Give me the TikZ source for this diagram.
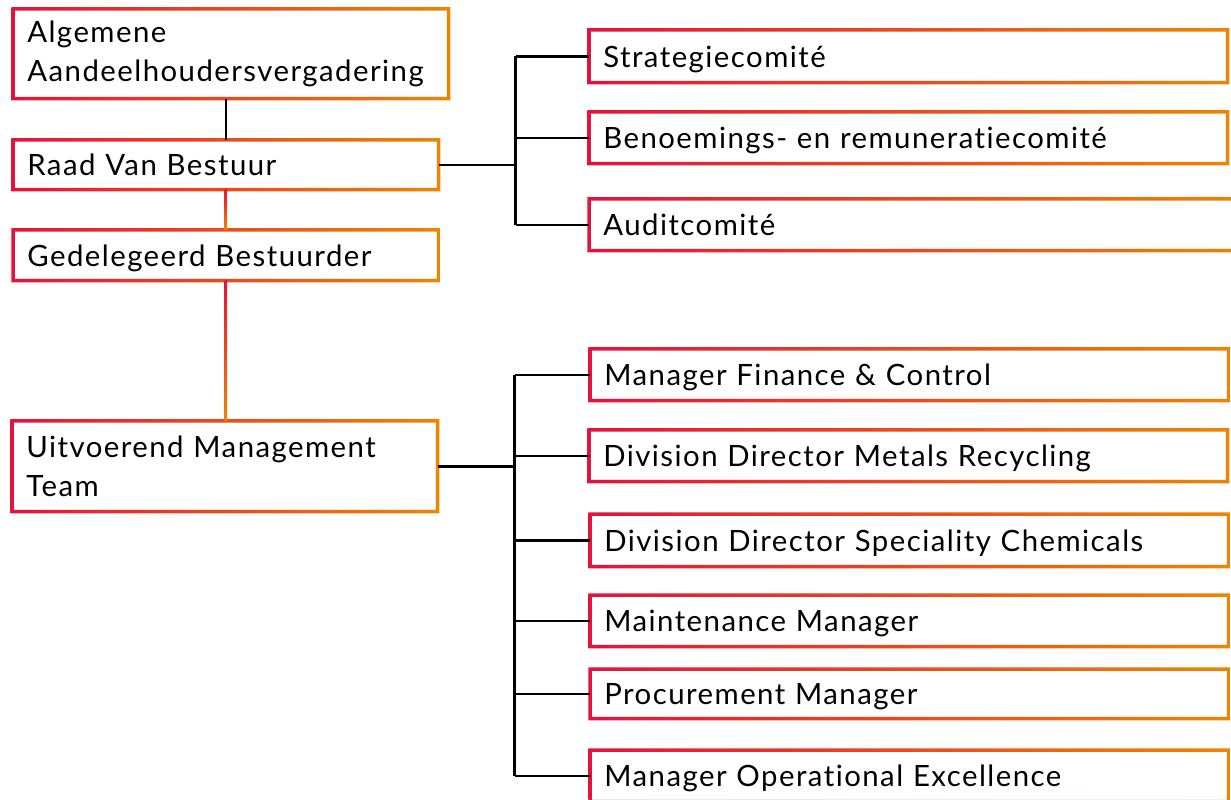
\documentclass[tikz,border=0pt]{standalone}
\usepackage{fontspec}
\setmainfont{Lato}[LetterSpace=5,Ligatures={NoCommon}]
\usepackage{tikz}
\usetikzlibrary{calc}
\definecolor{umred}{RGB}{228,18,60}
\definecolor{umorange}{RGB}{240,132,0}

\begin{document}
\begin{tikzpicture}[x=0.02cm,y=-0.02cm]
  \tikzstyle{unit}=[rectangle,anchor=north west,inner xsep=0.28cm,inner ysep=0pt,
                    align=left,font=\fontsize{16.7}{22.2}\selectfont]
  \tikzstyle{single}=[unit,text depth=0pt]
  \tikzstyle{narrow}=[minimum width=8.5cm,text width=7.94cm]
  \tikzstyle{wide}=[minimum width=12.76cm,text width=12.2cm]
  \tikzstyle{frame}=[even odd rule,left color=umred,right color=umorange]
  \tikzstyle{link}=[draw=black,line width=0.05cm]
  \tikzstyle{flow}=[top color=umred,bottom color=umorange]
  \useasboundingbox (0,0) rectangle (1231,800);
  \clip (0,0) rectangle (1231,800);

  % governance column
  \node [unit,minimum width=8.7cm,minimum height=1.78cm,text width=8.14cm] (aav) at (13,9)
    {Algemene\\Aandeelhoudersvergadering};
  \node [single,narrow,minimum height=0.98cm] (raad) at (13,140) {Raad Van Bestuur};
  \node [single,narrow,minimum height=1cm] (ged) at (13,230) {Gedelegeerd Bestuurder};
  \node [unit,narrow,minimum height=1.8cm] (umt) at (12,421) {Uitvoerend Management\\Team};

  % committees
  \node [single,wide,minimum height=1.04cm] (strat) at (589,30) {Strategiecomité};
  \node [single,wide,minimum height=1.02cm] (benoem) at (589,112) {Benoemings- en remuneratiecomité};
  \node [single,minimum width=13.2cm,text width=12.64cm,minimum height=1.02cm] (audit) at (589,199) {Auditcomité};

  % management team
  \node [single,wide,minimum height=1.02cm] (mfc) at (590,349) {Manager Finance \& Control};
  \node [single,wide,minimum height=1.02cm] (ddmr) at (589,430) {Division Director Metals Recycling};
  \node [single,wide,minimum height=1.04cm] (ddsc) at (590,514) {Division Director Speciality Chemicals};
  \node [single,wide,minimum height=1.02cm] (mm) at (590,595) {Maintenance Manager};
  \node [single,wide,minimum height=0.98cm] (pm) at (590,669) {Procurement Manager};
  \node [single,wide,minimum height=1.02cm] (moe) at (590,750) {Manager Operational Excellence};

  % gradient borders
  \foreach \n in {aav,raad,ged,umt,strat,benoem,audit,mfc,ddmr,ddsc,mm,pm,moe}
    \shade [frame] ($(\n.north west)+(-1.75,-1.75)$) rectangle ($(\n.south east)+(1.75,1.75)$)
                   ($(\n.north west)+(1.75,1.75)$) rectangle ($(\n.south east)+(-1.75,-1.75)$);

  % vertical line of command
  \draw [link] (raad.north) -- (raad.north |- aav.south);
  \shade [flow] ($(raad.south)+(-1.25,0)$) rectangle ($(ged.north)+(1.25,0)$);
  \shade [flow] ($(ged.south)+(-1.25,0)$) rectangle ($(ged.south |- umt.north)+(1.25,0)$);

  % board to committees
  \coordinate (rbus) at ($(raad.east)+(77,0)$);
  \draw [link] (raad.east) -- (rbus);
  \draw [link] (rbus |- strat.west) -- (rbus |- audit.west);
  \foreach \c in {strat,benoem,audit}
    \draw [link] (rbus |- \c.west) -- (\c.west);

  % management team to managers
  \coordinate (mbus) at ($(umt.east)+(77,0)$);
  \draw [link] (umt.east) -- (mbus);
  \draw [link] (mbus |- mfc.west) -- (mbus |- moe.west);
  \foreach \c in {mfc,ddmr,ddsc,mm,pm,moe}
    \draw [link] (mbus |- \c.west) -- (\c.west);
\end{tikzpicture}
\end{document}
